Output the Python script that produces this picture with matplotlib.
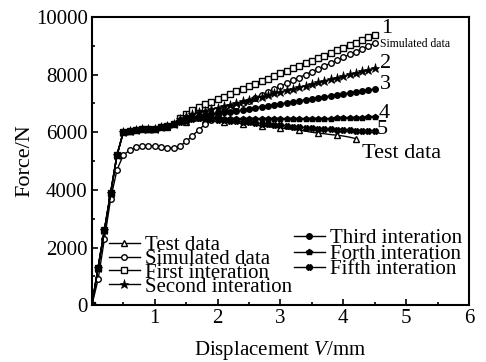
import matplotlib
matplotlib.use("Agg")
import matplotlib.pyplot as plt
from matplotlib.ticker import MultipleLocator

plt.rcParams["font.family"] = ["Liberation Serif", "DejaVu Serif"]
plt.rcParams["mathtext.fontset"] = "custom"
plt.rcParams["mathtext.it"] = "Liberation Serif:italic"
plt.rcParams["mathtext.rm"] = "Liberation Serif"

# displacement (mm), shared by every series
disp = [0.0, 0.1, 0.2, 0.3, 0.4, 0.5, 0.6, 0.7, 0.8, 0.9,
        1.0, 1.1, 1.2, 1.3, 1.4, 1.5, 1.6, 1.7, 1.8, 1.9,
        2.0, 2.1, 2.2, 2.3, 2.4, 2.5, 2.6, 2.7, 2.8, 2.9,
        3.0, 3.1, 3.2, 3.3, 3.4, 3.5, 3.6, 3.7, 3.8, 3.9,
        4.0, 4.1, 4.2, 4.3, 4.4, 4.5]

# force (N)
test_data = [0, 1350, 2650, 3950, 5250, 6000, 6050, 6080, 6100, 6100,
             6120, 6150, 6200, 6250, 6300, 6350, 6380, 6400, 6420, 6400,
             6380, 6360, 6340, 6320, 6300, 6280, 6250, 6220, 6200, 6170,
             6150, 6120, 6100, 6070, 6040, 6000, 5970, 5950, 5920, 5900,
             5870, 5830, 5780]
simulated = [0, 900, 2300, 3700, 4700, 5200, 5380, 5480, 5520, 5530,
             5520, 5500, 5470, 5450, 5520, 5680, 5880, 6080, 6280, 6440,
             6580, 6700, 6800, 6900, 7000, 7100, 7200, 7300, 7400, 7500,
             7600, 7700, 7800, 7900, 8000, 8100, 8200, 8300, 8400, 8500,
             8600, 8700, 8800, 8900, 9000, 9100]
first_it = [0, 1300, 2600, 3900, 5200, 6000, 6060, 6080, 6100, 6110,
            6130, 6170, 6230, 6300, 6500, 6650, 6780, 6880, 6970, 7060,
            7150, 7240, 7330, 7420, 7510, 7600, 7680, 7770, 7860, 7950,
            8040, 8130, 8220, 8310, 8400, 8480, 8570, 8660, 8750, 8840,
            8930, 9020, 9110, 9200, 9290, 9375]
second_it = [0, 1300, 2600, 3900, 5200, 6000, 6060, 6080, 6100, 6110,
             6130, 6170, 6230, 6300, 6450, 6550, 6620, 6690, 6750, 6800,
             6850, 6910, 6960, 7020, 7070, 7130, 7180, 7240, 7290, 7350,
             7400, 7460, 7510, 7570, 7620, 7680, 7730, 7790, 7840, 7900,
             7950, 8010, 8060, 8120, 8170, 8230]
third_it = [0, 1300, 2600, 3900, 5200, 6000, 6060, 6080, 6100, 6110,
            6130, 6170, 6230, 6300, 6420, 6480, 6530, 6570, 6600, 6630,
            6660, 6690, 6720, 6750, 6780, 6820, 6850, 6890, 6920, 6960,
            6990, 7020, 7060, 7090, 7130, 7160, 7200, 7230, 7270, 7300,
            7330, 7370, 7400, 7430, 7470, 7500]
fourth_it = [0, 1300, 2600, 3900, 5200, 6000, 6060, 6080, 6100, 6110,
             6130, 6170, 6230, 6300, 6400, 6450, 6480, 6500, 6500, 6490,
             6480, 6470, 6460, 6450, 6450, 6450, 6450, 6450, 6450, 6450,
             6450, 6450, 6450, 6455, 6455, 6460, 6465, 6470, 6475, 6480,
             6490, 6500, 6505, 6510, 6520, 6530]
fifth_it = [0, 1300, 2600, 3900, 5200, 6000, 6060, 6080, 6100, 6110,
            6130, 6170, 6230, 6300, 6360, 6400, 6450, 6480, 6480, 6460,
            6440, 6420, 6400, 6380, 6360, 6340, 6320, 6300, 6280, 6260,
            6240, 6220, 6200, 6180, 6160, 6140, 6120, 6110, 6100, 6090,
            6080, 6070, 6060, 6050, 6045, 6040]

fig = plt.figure(figsize=(4.86, 3.62), dpi=100)
ax = fig.add_axes([0.189, 0.157, 0.776, 0.796])

kw = dict(color="black", lw=1.0, ms=4, mew=1.0)
h_test, = ax.plot(disp[:len(test_data)], test_data, marker="^", mfc="white",
                  markevery=3, label="Test data", **kw)
h_sim, = ax.plot(disp, simulated, marker="o", mfc="white", label="Simulated data", **kw)
h_1, = ax.plot(disp, first_it, marker="s", mfc="white", label="First interation", **kw)
h_2, = ax.plot(disp, second_it, marker="*", mfc="black", label="Second interation",
               color="black", lw=1.0, ms=6.5, mew=0.5)
h_3, = ax.plot(disp, third_it, marker="o", mfc="black", label="Third interation", **kw)
h_4, = ax.plot(disp, fourth_it, marker="p", mfc="black", label="Forth interation", **kw)
h_5, = ax.plot(disp, fifth_it, marker="X", mfc="black", label="Fifth interation", **kw)

ax.set_xlim(0, 6)
ax.set_ylim(0, 10000)
ax.set_xticks([1, 2, 3, 4, 5, 6])
ax.set_yticks([0, 2000, 4000, 6000, 8000, 10000])
ax.xaxis.set_minor_locator(MultipleLocator(0.5))
ax.yaxis.set_minor_locator(MultipleLocator(1000))
ax.tick_params(which="both", direction="in", top=False, right=False,
               labelsize=15, width=1.2)
ax.tick_params(which="major", length=4, pad=3)
ax.tick_params(which="minor", length=2.5)
for s in ax.spines.values():
    s.set_linewidth(1.5)

ax.set_xlabel("Displacement $\\it{V}$/mm", fontsize=15, labelpad=8)
ax.set_ylabel("Force/N", fontsize=16, labelpad=1)

# curve numbers at the right ends
ax.text(4.6, 9600, "1", fontsize=16, va="center")
ax.text(4.58, 9050, "Simulated data", fontsize=8.5, va="center")
ax.text(4.58, 8400, "2", fontsize=16, va="center")
ax.text(4.58, 7650, "3", fontsize=16, va="center")
ax.text(4.56, 6650, "4", fontsize=16, va="center")
ax.text(4.53, 6100, "5", fontsize=16, va="center")
ax.text(4.3, 5250, "Test data", fontsize=16, va="center")

lkw = dict(frameon=False, fontsize=15, handlelength=1.5, handletextpad=0.25,
           borderaxespad=0.0, borderpad=0.0)
leg1 = ax.legend(handles=[h_test, h_sim, h_1, h_2], loc="lower left",
                 bbox_to_anchor=(0.045, 0.03), labelspacing=-0.28, **lkw)
ax.add_artist(leg1)
ax.legend(handles=[h_3, h_4, h_5], loc="lower left",
          bbox_to_anchor=(0.535, 0.09), labelspacing=-0.2, **lkw)

fig.savefig("out.png", dpi=100)
